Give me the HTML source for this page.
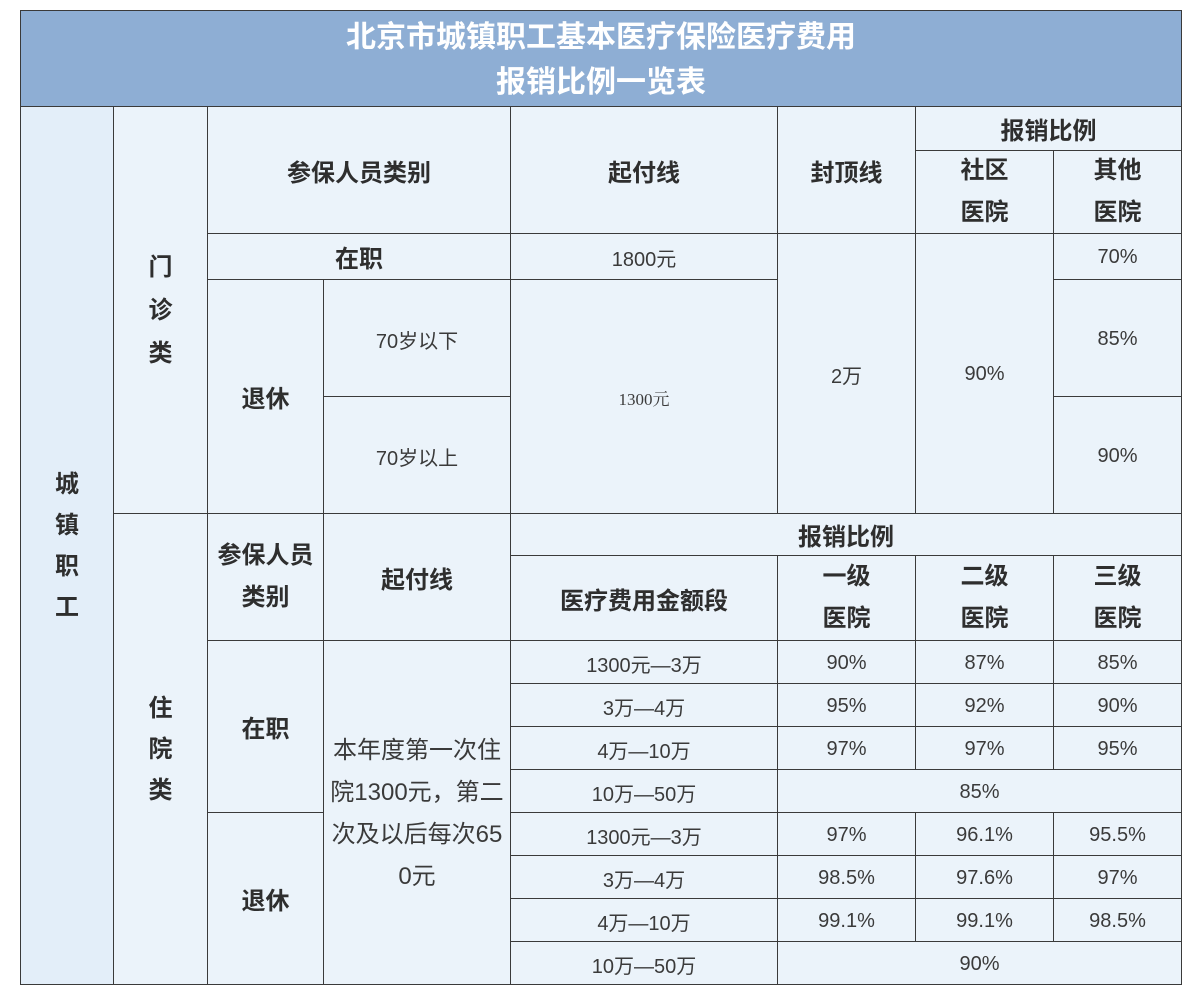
<!DOCTYPE html>
<html><head><meta charset="utf-8"><style>
body{margin:0;width:1200px;height:1002px;background:#fff;position:relative;overflow:hidden;font-family:"Liberation Sans","Noto Sans CJK SC",sans-serif;}
.c{position:absolute;box-sizing:border-box;border:1px solid #3a3a3a;background:#ebf3fa;display:flex;align-items:center;justify-content:center;text-align:center;color:#3a3a3a;font-size:20px;padding-top:2px;}
.b{font-weight:bold;font-size:24px;color:#2e2e2e;padding-top:0;}
.h{background:#8eaed4;color:#fff;font-weight:bold;font-size:30px;line-height:45px;}
</style></head><body>
<div class="c h" style="left:20px;top:10px;width:1162px;height:97px;">北京市城镇职工基本医疗保险医疗费用<br>报销比例一览表</div>
<div class="c b" style="left:20px;top:106px;width:94px;height:879px;background:#e3eef9;line-height:41px;">城<br>镇<br>职<br>工</div>
<div class="c b" style="left:113px;top:106px;width:95px;height:408px;line-height:43px;">门<br>诊<br>类</div>
<div class="c b" style="left:113px;top:513px;width:95px;height:472px;line-height:41px;">住<br>院<br>类</div>
<div class="c b" style="left:207px;top:106px;width:304px;height:128px;">参保人员类别</div>
<div class="c b" style="left:510px;top:106px;width:268px;height:128px;">起付线</div>
<div class="c b" style="left:777px;top:106px;width:139px;height:128px;">封顶线</div>
<div class="c b" style="left:915px;top:106px;width:267px;height:45px;">报销比例</div>
<div class="c b" style="left:915px;top:150px;width:139px;height:84px;line-height:42px;">社区<br>医院</div>
<div class="c b" style="left:1053px;top:150px;width:129px;height:84px;line-height:42px;">其他<br>医院</div>
<div class="c b" style="left:207px;top:233px;width:304px;height:47px;">在职</div>
<div class="c" style="left:510px;top:233px;width:268px;height:47px;">1800元</div>
<div class="c" style="left:777px;top:233px;width:139px;height:281px;">2万</div>
<div class="c" style="left:915px;top:233px;width:139px;height:281px;">90%</div>
<div class="c" style="left:1053px;top:233px;width:129px;height:47px;">70%</div>
<div class="c b" style="left:207px;top:279px;width:117px;height:235px;">退休</div>
<div class="c" style="left:323px;top:279px;width:188px;height:118px;">70岁以下</div>
<div class="c" style="left:323px;top:396px;width:188px;height:118px;">70岁以上</div>
<div class="c" style="left:510px;top:279px;width:268px;height:235px;font-family:'Liberation Serif','Noto Serif CJK SC',serif;font-size:17px;">1300元</div>
<div class="c" style="left:1053px;top:279px;width:129px;height:118px;">85%</div>
<div class="c" style="left:1053px;top:396px;width:129px;height:118px;">90%</div>
<div class="c b" style="left:207px;top:513px;width:117px;height:128px;line-height:42px;">参保人员<br>类别</div>
<div class="c b" style="left:323px;top:513px;width:188px;height:128px;">起付线</div>
<div class="c b" style="left:510px;top:513px;width:672px;height:43px;">报销比例</div>
<div class="c b" style="left:510px;top:555px;width:268px;height:86px;">医疗费用金额段</div>
<div class="c b" style="left:777px;top:555px;width:139px;height:86px;line-height:42px;">一级<br>医院</div>
<div class="c b" style="left:915px;top:555px;width:139px;height:86px;line-height:42px;">二级<br>医院</div>
<div class="c b" style="left:1053px;top:555px;width:129px;height:86px;line-height:42px;">三级<br>医院</div>
<div class="c b" style="left:207px;top:640px;width:117px;height:173px;">在职</div>
<div class="c b" style="left:207px;top:812px;width:117px;height:173px;">退休</div>
<div class="c" style="left:323px;top:640px;width:188px;height:345px;font-size:24px;line-height:42px;white-space:nowrap;">本年度第一次住<br>院1300元，第二<br>次及以后每次65<br>0元</div>

<div class="c" style="left:510px;top:640px;width:268px;height:44px;">1300元—3万</div>
<div class="c" style="left:777px;top:640px;width:139px;height:44px;">90%</div>
<div class="c" style="left:915px;top:640px;width:139px;height:44px;">87%</div>
<div class="c" style="left:1053px;top:640px;width:129px;height:44px;">85%</div>

<div class="c" style="left:510px;top:683px;width:268px;height:44px;">3万—4万</div>
<div class="c" style="left:777px;top:683px;width:139px;height:44px;">95%</div>
<div class="c" style="left:915px;top:683px;width:139px;height:44px;">92%</div>
<div class="c" style="left:1053px;top:683px;width:129px;height:44px;">90%</div>

<div class="c" style="left:510px;top:726px;width:268px;height:44px;">4万—10万</div>
<div class="c" style="left:777px;top:726px;width:139px;height:44px;">97%</div>
<div class="c" style="left:915px;top:726px;width:139px;height:44px;">97%</div>
<div class="c" style="left:1053px;top:726px;width:129px;height:44px;">95%</div>

<div class="c" style="left:510px;top:769px;width:268px;height:44px;">10万—50万</div>
<div class="c" style="left:777px;top:769px;width:405px;height:44px;">85%</div>

<div class="c" style="left:510px;top:812px;width:268px;height:44px;">1300元—3万</div>
<div class="c" style="left:777px;top:812px;width:139px;height:44px;">97%</div>
<div class="c" style="left:915px;top:812px;width:139px;height:44px;">96.1%</div>
<div class="c" style="left:1053px;top:812px;width:129px;height:44px;">95.5%</div>

<div class="c" style="left:510px;top:855px;width:268px;height:44px;">3万—4万</div>
<div class="c" style="left:777px;top:855px;width:139px;height:44px;">98.5%</div>
<div class="c" style="left:915px;top:855px;width:139px;height:44px;">97.6%</div>
<div class="c" style="left:1053px;top:855px;width:129px;height:44px;">97%</div>

<div class="c" style="left:510px;top:898px;width:268px;height:44px;">4万—10万</div>
<div class="c" style="left:777px;top:898px;width:139px;height:44px;">99.1%</div>
<div class="c" style="left:915px;top:898px;width:139px;height:44px;">99.1%</div>
<div class="c" style="left:1053px;top:898px;width:129px;height:44px;">98.5%</div>

<div class="c" style="left:510px;top:941px;width:268px;height:44px;">10万—50万</div>
<div class="c" style="left:777px;top:941px;width:405px;height:44px;">90%</div>
</body></html>
